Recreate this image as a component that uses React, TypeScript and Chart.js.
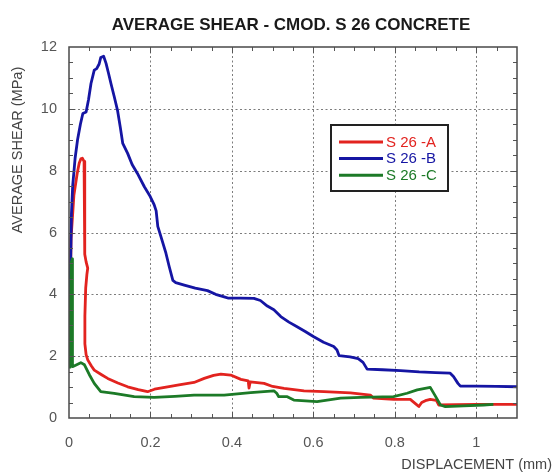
import React, { useEffect, useRef } from 'react';
import { Chart, registerables } from 'chart.js';

Chart.register(...registerables);

const FONT = "'Liberation Sans', Arial, sans-serif";

const chartTitle = 'AVERAGE SHEAR - CMOD. S 26 CONCRETE';
const xTitle = 'DISPLACEMENT (mm)';
const yTitle = 'AVERAGE SHEAR (MPa)';

const xTicks = [0, 0.2, 0.4, 0.6, 0.8, 1];
const yTicks = [0, 2, 4, 6, 8, 10, 12];

const seriesLabels = ['S 26 -A', 'S 26 -B', 'S 26 -C'];
const seriesColors = ['#e2231f', '#1515a3', '#1c7a27'];

const aX = [0.002, 0.005, 0.012, 0.02, 0.025, 0.029, 0.033, 0.037, 0.038, 0.039, 0.039, 0.042, 0.046, 0.044, 0.041, 0.039, 0.039, 0.042, 0.046, 0.055, 0.062, 0.08, 0.095, 0.12, 0.144, 0.17, 0.193, 0.21, 0.242, 0.27, 0.307, 0.332, 0.355, 0.373, 0.397, 0.422, 0.44, 0.442, 0.445, 0.479, 0.5, 0.528, 0.577, 0.626, 0.691, 0.74, 0.748, 0.797, 0.838, 0.852, 0.859, 0.866, 0.875, 0.887, 0.902, 0.908, 0.95, 1.0, 1.05, 1.1];
const aY = [2.6, 5.8, 7.2, 7.9, 8.24, 8.38, 8.4, 8.3, 7.4, 6.2, 5.3, 5.05, 4.85, 4.65, 4.2, 3.3, 2.4, 2.05, 1.88, 1.68, 1.55, 1.4, 1.28, 1.13, 1.01, 0.92, 0.85, 0.93, 1.01, 1.07, 1.15, 1.28, 1.38, 1.42, 1.39, 1.25, 1.2, 0.97, 1.17, 1.12, 1.02, 0.96, 0.88, 0.85, 0.81, 0.74, 0.64, 0.6, 0.6, 0.45, 0.37, 0.5, 0.56, 0.6, 0.57, 0.42, 0.43, 0.44, 0.44, 0.44];

const bX = [0.002, 0.004, 0.006, 0.009, 0.015, 0.021, 0.028, 0.034, 0.042, 0.048, 0.054, 0.062, 0.068, 0.074, 0.078, 0.085, 0.091, 0.097, 0.103, 0.111, 0.119, 0.126, 0.132, 0.144, 0.155, 0.168, 0.185, 0.198, 0.209, 0.214, 0.218, 0.225, 0.238, 0.246, 0.255, 0.262, 0.283, 0.31, 0.34, 0.36, 0.381, 0.39, 0.42, 0.454, 0.47, 0.487, 0.503, 0.52, 0.54, 0.56, 0.58, 0.601, 0.625, 0.65, 0.658, 0.663, 0.69, 0.71, 0.722, 0.732, 0.77, 0.814, 0.86, 0.9, 0.936, 0.944, 0.955, 0.961, 1.0, 1.05, 1.1];
const bY = [3.3, 5.0, 6.6, 7.5, 8.4, 9.0, 9.5, 9.85, 9.9, 10.3, 10.82, 11.25, 11.3, 11.45, 11.66, 11.7, 11.47, 11.15, 10.82, 10.4, 9.96, 9.4, 8.88, 8.56, 8.2, 7.91, 7.48, 7.2, 6.9, 6.7, 6.2, 5.9, 5.33, 4.9, 4.45, 4.38, 4.3, 4.2, 4.12, 4.0, 3.92, 3.88, 3.88, 3.87, 3.8, 3.62, 3.5, 3.28, 3.1, 2.95, 2.8, 2.63, 2.45, 2.31, 2.2, 2.02, 1.98, 1.92, 1.8, 1.58, 1.56, 1.53, 1.49, 1.47, 1.45, 1.34, 1.12, 1.03, 1.03, 1.02, 1.01];

const cX = [0.002, 0.003, 0.005, 0.008, 0.009, 0.008, 0.015, 0.029, 0.038, 0.05, 0.062, 0.078, 0.111, 0.16, 0.209, 0.26, 0.307, 0.381, 0.446, 0.503, 0.51, 0.515, 0.536, 0.552, 0.609, 0.667, 0.716, 0.797, 0.83, 0.855, 0.887, 0.9, 0.912, 0.924, 0.969, 1.018, 1.042];
const cY = [1.6, 3.5, 5.0, 5.15, 3.5, 1.66, 1.7, 1.79, 1.72, 1.4, 1.12, 0.85, 0.8, 0.69, 0.67, 0.7, 0.74, 0.74, 0.82, 0.88, 0.8, 0.69, 0.69, 0.58, 0.53, 0.64, 0.67, 0.69, 0.8, 0.91, 0.99, 0.7, 0.42, 0.37, 0.39, 0.42, 0.44];

const zip = (xs: number[], ys: number[]) => xs.map((x, i) => ({ x, y: ys[i] }));

const decor = {
  id: 'decor',
  beforeDatasetsDraw(chart: any) {
    const { ctx, chartArea: a, scales } = chart;
    const x = scales.x;
    const y = scales.y;
    ctx.save();
    ctx.strokeStyle = '#7c7c7c';
    ctx.lineWidth = 1;
    ctx.setLineDash([2, 2.5]);
    xTicks.forEach((v) => {
      if (v <= 0) return;
      const px = Math.round(x.getPixelForValue(v)) + 0.5;
      ctx.beginPath();
      ctx.moveTo(px, a.top);
      ctx.lineTo(px, a.bottom);
      ctx.stroke();
    });
    yTicks.forEach((v) => {
      if (v <= 0 || v >= 12) return;
      const py = Math.round(y.getPixelForValue(v)) + 0.5;
      ctx.beginPath();
      ctx.moveTo(a.left, py);
      ctx.lineTo(a.right, py);
      ctx.stroke();
    });
    ctx.restore();
  },
  afterDatasetsDraw(chart: any) {
    const { ctx, chartArea: a, scales } = chart;
    const x = scales.x;
    const y = scales.y;
    ctx.save();
    ctx.strokeStyle = '#555';
    ctx.lineWidth = 1;
    for (let i = 1; i * 0.05 < 1.1 - 1e-9; i++) {
      const v = i * 0.05;
      const major = Math.abs(v / 0.2 - Math.round(v / 0.2)) < 1e-6;
      const len = major ? 6 : 4;
      const px = Math.round(x.getPixelForValue(v)) + 0.5;
      ctx.beginPath();
      ctx.moveTo(px, a.bottom);
      ctx.lineTo(px, a.bottom - len);
      ctx.moveTo(px, a.top);
      ctx.lineTo(px, a.top + len);
      ctx.stroke();
    }
    for (let i = 1; i * 0.5 < 12 - 1e-9; i++) {
      const v = i * 0.5;
      const major = Math.abs(v / 2 - Math.round(v / 2)) < 1e-6;
      const len = major ? 6 : 4;
      const py = Math.round(y.getPixelForValue(v)) + 0.5;
      ctx.beginPath();
      ctx.moveTo(a.left, py);
      ctx.lineTo(a.left + len, py);
      ctx.moveTo(a.right, py);
      ctx.lineTo(a.right - len, py);
      ctx.stroke();
    }
    ctx.strokeStyle = '#4a4a4a';
    ctx.lineWidth = 1.5;
    ctx.strokeRect(a.left, a.top, a.right - a.left, a.bottom - a.top);

    const lx = 331, ly = 125, lw = 117, lh = 66;
    ctx.fillStyle = '#ffffff';
    ctx.fillRect(lx, ly, lw, lh);
    ctx.strokeStyle = '#222';
    ctx.lineWidth = 2;
    ctx.strokeRect(lx, ly, lw, lh);
    ctx.font = `15px ${FONT}`;
    ctx.textAlign = 'left';
    ctx.textBaseline = 'middle';
    chart.data.datasets.forEach((ds: any, i: number) => {
      const yy = ly + 17 + i * 16.6;
      ctx.strokeStyle = ds.borderColor;
      ctx.lineWidth = 3;
      ctx.beginPath();
      ctx.moveTo(lx + 8, yy);
      ctx.lineTo(lx + 52, yy);
      ctx.stroke();
      ctx.fillStyle = ds.borderColor;
      ctx.fillText(ds.label, lx + 55, yy + 0.5);
    });
    ctx.restore();
  },
  afterDraw(chart: any) {
    const { ctx, chartArea: a } = chart;
    ctx.save();
    ctx.fillStyle = '#1a1a1a';
    ctx.font = `bold 17px ${FONT}`;
    ctx.textAlign = 'center';
    ctx.textBaseline = 'alphabetic';
    ctx.fillText(chartTitle, (a.left + a.right) / 2 - 2, 29.5);

    ctx.fillStyle = '#444';
    ctx.font = `14.5px ${FONT}`;
    ctx.textAlign = 'right';
    ctx.textBaseline = 'middle';
    ctx.fillText(xTitle, 552, 465);

    ctx.translate(18, 150);
    ctx.rotate(-Math.PI / 2);
    ctx.textAlign = 'center';
    ctx.fillText(yTitle, 0, 0);
    ctx.restore();
  },
};

export default function App() {
  const ref = useRef<HTMLCanvasElement>(null);
  useEffect(() => {
    if (!ref.current) return;
    const tickFont = { family: FONT, size: 14.5 };
    const chart = new Chart(ref.current, {
      type: 'scatter',
      data: {
        datasets: [
          { label: seriesLabels[0], data: zip(aX, aY), borderColor: seriesColors[0], order: 3 },
          { label: seriesLabels[1], data: zip(bX, bY), borderColor: seriesColors[1], order: 2 },
          { label: seriesLabels[2], data: zip(cX, cY), borderColor: seriesColors[2], order: 1 },
        ].map((d) => ({
          ...d,
          showLine: true,
          pointRadius: 0,
          borderWidth: 2.8,
          backgroundColor: d.borderColor,
          borderJoinStyle: 'round' as const,
          tension: 0,
          fill: false,
        })),
      },
      options: {
        animation: false,
        responsive: false,
        maintainAspectRatio: false,
        layout: { padding: { top: 47, right: 38, bottom: 0, left: 0 } },
        plugins: {
          legend: { display: false },
          title: { display: false },
          tooltip: { enabled: false },
        },
        scales: {
          x: {
            type: 'linear',
            min: 0,
            max: 1.1,
            grid: { display: false, drawTicks: false },
            border: { display: false },
            afterBuildTicks: (s: any) => {
              s.ticks = xTicks.map((v) => ({ value: v }));
            },
            afterFit: (s: any) => {
              s.height = 55;
            },
            ticks: {
              padding: 16,
              color: '#555',
              font: tickFont,
              autoSkip: false,
              maxRotation: 0,
              callback: (v: any) => String(Number(v)),
            },
          },
          y: {
            type: 'linear',
            min: 0,
            max: 12,
            grid: { display: false, drawTicks: false },
            border: { display: false },
            afterBuildTicks: (s: any) => {
              s.ticks = yTicks.map((v) => ({ value: v }));
            },
            afterFit: (s: any) => {
              s.width = 69;
            },
            ticks: {
              padding: 12,
              color: '#555',
              font: tickFont,
              autoSkip: false,
              callback: (v: any) => String(Number(v)),
            },
          },
        },
      },
      plugins: [decor],
    } as any);
    return () => chart.destroy();
  }, []);
  return (
    <div style={{ position: 'absolute', left: 0, top: 0, width: 555, height: 473, background: '#fff' }}>
      <canvas ref={ref} width={555} height={473} style={{ display: 'block' }} />
    </div>
  );
}
